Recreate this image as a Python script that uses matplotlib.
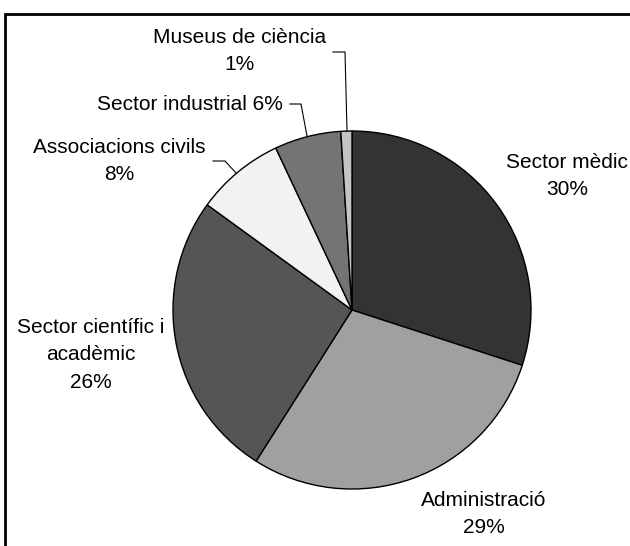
import matplotlib
matplotlib.use("Agg")
import matplotlib.pyplot as plt
from matplotlib.patches import Rectangle

plt.rcParams['font.family'] = ['Liberation Sans', 'DejaVu Sans']

# data
sectors = ['Sector mèdic', 'Administració', 'Sector científic i\nacadèmic',
           'Associacions civils', 'Sector industrial', 'Museus de ciència']
shares = [30, 29, 26, 8, 6, 1]
greys = ['#333333', '#a0a0a0', '#555555', '#f2f2f2', '#747474', '#c4c4c4']

H = 546
fig = plt.figure(figsize=(6.3, 5.46), dpi=100)
ax = fig.add_axes([0, 0, 1, 1])
ax.set_xlim(0, 630)
ax.set_ylim(0, H)
ax.set_aspect('equal')
ax.axis('off')

ax.pie(shares, colors=greys, startangle=90, counterclock=False,
       center=(352, H - 310), radius=179,
       wedgeprops=dict(edgecolor='black', linewidth=1.0))
ax.set_xlim(0, 630)
ax.set_ylim(0, H)

# label placement (pixel positions of text centres)
label_pos = [(567, 176, 'two'), (484, 514, 'two'), (91, 355, 'two'),
             (119, 161, 'two'), (190, 105, 'one'), (240, 51, 'two')]
for name, val, (x, y, mode) in zip(sectors, shares, label_pos):
    if mode == 'one':
        txt = f'{name} {val}%'
    else:
        txt = f'{name}\n{val}%'
    ax.text(x, H - y, txt, ha='center', va='center', fontsize=15,
            linespacing=1.58, color='black')

# leader lines
leaders = [
    [(213, 161), (225, 161), (236, 173)],
    [(290, 104), (301, 104), (307, 136)],
    [(333, 52), (345, 52), (347, 131)],
]
for pts in leaders:
    ax.plot([p[0] for p in pts], [H - p[1] for p in pts], color='black',
            linewidth=0.8, solid_joinstyle='miter')

# outer frame (runs off the right and bottom edge)
ax.add_patch(Rectangle((5, -20), 700, H - 14 + 20, fill=False,
                       edgecolor='black', linewidth=2, clip_on=False))

fig.savefig('out.png', dpi=100)
